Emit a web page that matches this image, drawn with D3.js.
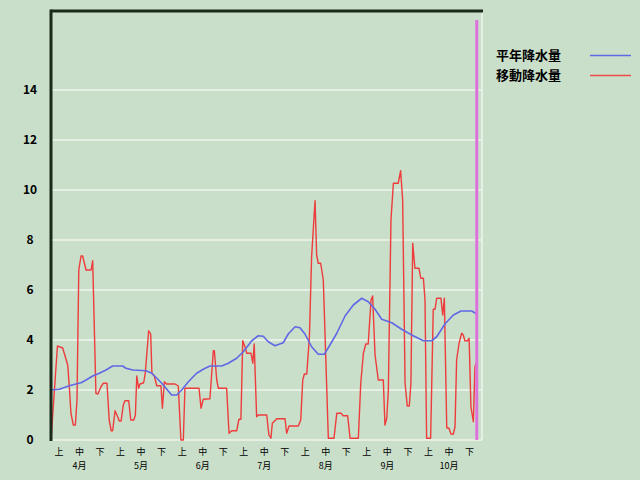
<!DOCTYPE html>
<html><head><meta charset="utf-8">
<script src="https://cdn.jsdelivr.net/npm/d3@7"></script>
<style>html,body{margin:0;padding:0;background:#c9dfc9;}svg{display:block;}</style>
</head><body>
<svg id="c" width="640" height="480"></svg>
<script>
// ---- data (day index from 1 April, value in mm) ----
const months = ["4月","5月","6月","7月","8月","9月","10月"];
const dekads = ["上","中","下"];
const yTicks = [0,2,4,6,8,10,12,14];
const seriesNames = ["平年降水量","移動降水量"];
const totalDays = 214;
const todayDay = 211.4;
const todayTop = 16.8;

const normalDays = [0,4.1,9.1,12.4,14.9,17.4,20.7,24,27.3,30.6,35.6,37.2,40.6,47.2,50.1,55,59.9,62.4,64.9,68.2,72.3,75.6,78.9,84.8,88,92.2,95.5,99.7,102.9,105.4,107.9,111.2,115.3,117.8,121.2,123.6,126.1,129.4,132.7,135.7,138.5,141.9,146,150.1,154.3,157.5,160.9,164.2,169.2,174.1,179.1,184.9,189,191.5,195.6,199.8,203.6,208.9,211.4];
const normalVals = [2.0,2.03,2.17,2.24,2.29,2.4,2.56,2.67,2.8,2.96,2.96,2.87,2.8,2.77,2.67,2.27,1.8,1.8,2.0,2.33,2.67,2.83,2.96,2.96,3.07,3.27,3.53,3.97,4.17,4.15,3.93,3.77,3.89,4.24,4.53,4.49,4.24,3.73,3.43,3.43,3.8,4.27,4.96,5.4,5.67,5.53,5.23,4.83,4.69,4.43,4.2,3.97,3.97,4.13,4.64,5.0,5.16,5.16,5.04];

const movingDays = [0,3.2,4.1,5.8,7.1,8.3,9.1,9.9,11.1,12.1,12.9,13.8,14.9,15.7,17.4,19.9,20.7,22.3,23.3,24.8,26,27.8,28.9,29.9,30.6,31.8,33.1,33.9,34.8,35.9,36.7,38.6,39.6,41.1,41.9,42.6,43.5,44.2,46,46.8,48.5,49.5,50.1,51.3,52.5,54.6,55.3,56.3,57.4,61.6,63.2,64.5,65.7,66.5,73.5,74.5,75.6,78.9,80.6,81.1,82.3,83.1,87.2,88.4,89.7,92.2,93.3,94.3,95.2,96.3,97.2,99.3,100.2,100.9,102.1,102.9,107.1,108.2,109.2,109.9,112.1,116.2,117,118.2,122.8,124,125,125.8,127,128.3,129.4,131.1,131.9,132.7,133.9,135.2,137.7,140.5,141.9,144,145.1,147.3,148.5,152.6,153.8,155.1,156.3,157.5,158.9,159.7,160.9,162.5,165,165.8,166.7,167.5,168.8,170,172.4,173.6,174.6,175.8,176.9,177.9,178.7,179.6,180.7,182.7,183.6,184.9,185.7,186.5,188.5,189.8,190.7,191.5,193.6,194.5,195.3,196.5,197.6,198.6,199.8,200.6,201.4,202.6,203.9,204.7,205.5,206.8,207.6,208.5,209.7,210.5,211.4];
const movingVals = [0,3.76,3.73,3.68,3.33,3.0,2.13,1.07,0.6,0.6,1.6,6.8,7.36,7.36,6.8,6.8,7.17,1.87,1.84,2.13,2.27,2.27,0.8,0.37,0.37,1.17,0.93,0.76,0.76,1.4,1.57,1.57,0.8,0.8,1.0,2.56,2.07,2.24,2.29,2.67,4.37,4.24,2.67,2.56,2.17,2.17,1.27,2.33,2.24,2.24,2.16,0,0,2.07,2.07,1.27,1.63,1.65,3.57,3.57,2.4,2.07,2.07,0.27,0.37,0.37,0.83,0.83,3.97,3.73,3.47,3.47,3.07,3.84,0.93,1.0,1.0,0.2,0.07,0.67,0.85,0.85,0.27,0.56,0.56,0.8,2.4,2.64,2.64,4.13,7.33,9.57,7.4,7.07,7.07,6.4,0.07,0.07,1.07,1.07,0.97,0.97,0.07,0.07,2.27,3.47,3.84,3.84,5.6,5.76,3.4,2.4,2.4,0.6,0.87,2.0,8.8,10.27,10.27,10.77,9.6,2.27,1.36,1.36,2.27,7.87,6.87,6.87,6.47,6.47,5.6,0.07,0.07,5.23,5.23,5.67,5.67,5.0,5.67,0.49,0.47,0.24,0.24,0.53,3.2,3.87,4.27,4.2,3.97,3.97,4.07,1.33,0.73,2.93,3.13];

// ---- chart ----
const svg = d3.select("#c");
const L = 51, R = 482, T = 11, B = 440;
const x = d3.scaleLinear().domain([0, totalDays]).range([L, R]);
const y = d3.scaleLinear().domain([0, 17.16]).range([B, T]);
const dekadLabels = [];
months.forEach((m, mi) => dekads.forEach((d, di) => dekadLabels.push({m, mi, d, di, key: m + d})));
const xb = d3.scaleBand().domain(dekadLabels.map(d => d.key)).range([L, R]);

svg.append("rect").attr("width", 640).attr("height", 480).attr("fill", "#c9dfc9");

// grid
svg.append("g").selectAll("line").data(yTicks).join("line")
  .attr("x1", L).attr("x2", R).attr("y1", d => y(d)).attr("y2", d => y(d))
  .attr("stroke", "#e6efe4").attr("stroke-width", 2);
// right border
svg.append("line").attr("x1", R).attr("x2", R).attr("y1", T).attr("y2", B)
  .attr("stroke", "#e6efe4").attr("stroke-width", 2);

// y labels
svg.append("g").selectAll("text").data(yTicks).join("text")
  .attr("x", 30).attr("y", d => y(d)).attr("dy", "0.36em")
  .attr("text-anchor", "middle").attr("font-family", "'Noto Sans CJK JP', 'DejaVu Sans', sans-serif")
  .attr("font-weight", "bold").attr("font-size", 12).attr("fill", "#000").text(d => d);

// x labels: dekad row and month row
const xg = svg.append("g").attr("font-family", "'Noto Sans CJK JP', sans-serif").attr("fill", "#000").attr("font-size", 9);
xg.selectAll("text.dk").data(dekadLabels).join("text").attr("class", "dk")
  .attr("x", d => xb(d.key) + 8).attr("y", 455).attr("text-anchor", "middle").text(d => d.d);
xg.selectAll("text.mo").data(dekadLabels.filter(d => d.di === 1)).join("text").attr("class", "mo")
  .attr("x", d => xb(d.key) + 8).attr("y", 468.5).attr("text-anchor", "middle").text(d => d.m);

// lines
const line = d3.line().x(d => x(d[0])).y(d => y(d[1]));
svg.append("path").datum(movingDays.map((d, i) => [d, movingVals[i]]))
  .attr("d", line).attr("fill", "none").attr("stroke", "#ee3c3c").attr("stroke-width", 1.4).attr("stroke-linejoin", "round");
svg.append("path").datum(normalDays.map((d, i) => [d, normalVals[i]]))
  .attr("d", line).attr("fill", "none").attr("stroke", "#6068e6").attr("stroke-width", 1.6).attr("stroke-linejoin", "round");

// today marker
svg.append("line").attr("x1", x(todayDay)).attr("x2", x(todayDay)).attr("y1", y(todayTop)).attr("y2", y(0))
  .attr("stroke", "#dc72dc").attr("stroke-width", 3);

// axes (dark)
svg.append("line").attr("x1", L).attr("x2", L).attr("y1", T - 1.5).attr("y2", B + 1)
  .attr("stroke", "#1a2a1a").attr("stroke-width", 3);
svg.append("line").attr("x1", L).attr("x2", R + 1).attr("y1", T).attr("y2", T)
  .attr("stroke", "#1a2a1a").attr("stroke-width", 3);

// legend
const colors = ["#6068e6", "#ee4a4a"];
const lg = svg.append("g");
lg.selectAll("text").data(seriesNames).join("text")
  .attr("x", 496).attr("y", (d, i) => 55.5 + i * 20).attr("dy", "0.36em")
  .attr("font-family", "'Noto Sans CJK JP', sans-serif").attr("font-weight", "bold")
  .attr("font-size", 13).attr("fill", "#000").text(d => d);
lg.selectAll("line").data(seriesNames).join("line")
  .attr("x1", 590).attr("x2", 631).attr("y1", (d, i) => 55.5 + i * 20).attr("y2", (d, i) => 55.5 + i * 20)
  .attr("stroke", (d, i) => colors[i]).attr("stroke-width", 1.6);
</script>
</body></html>
